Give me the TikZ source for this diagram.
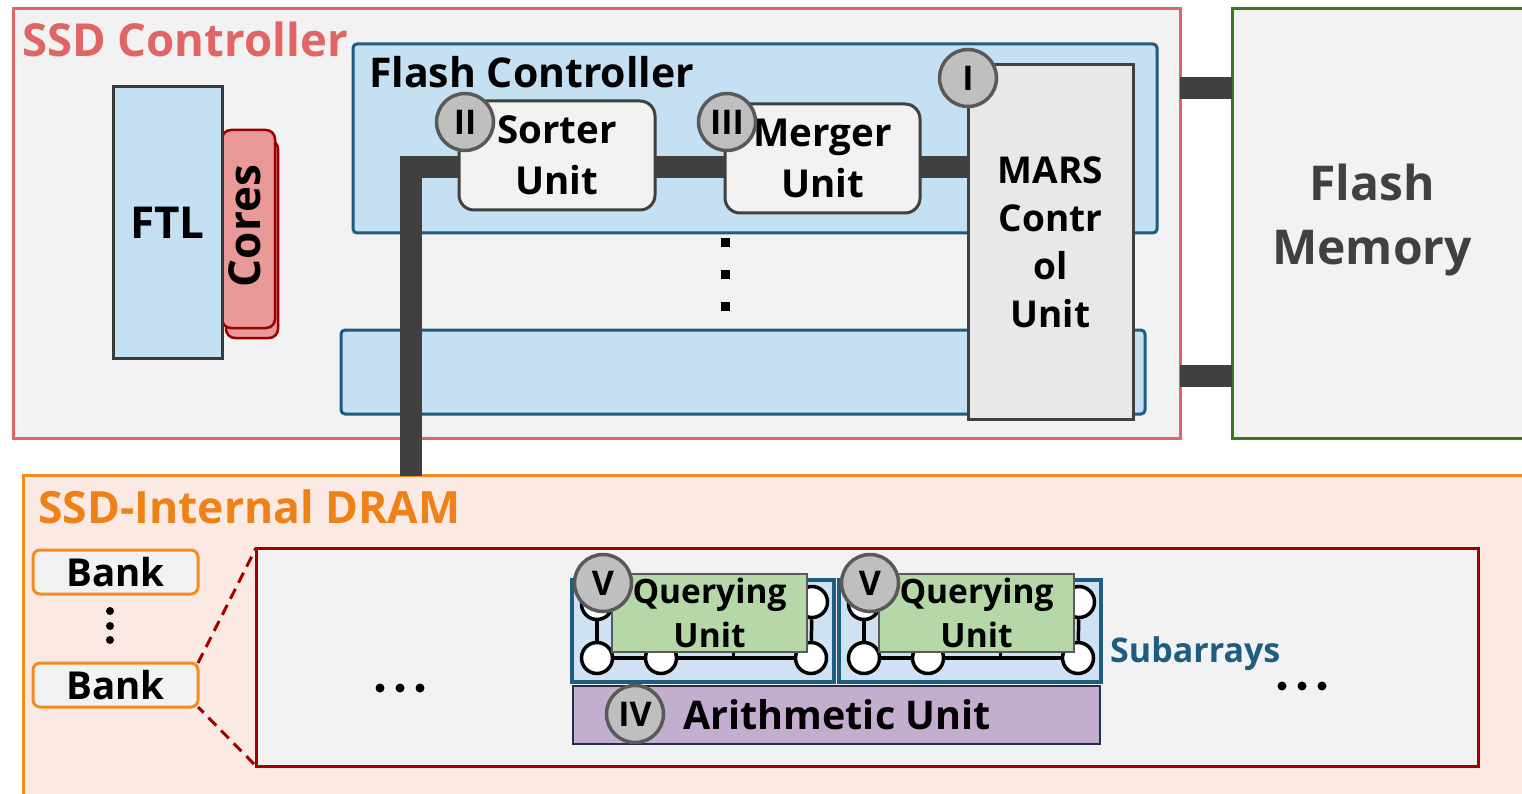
\documentclass[tikz,border=0pt]{standalone}
\usepackage{fontspec}
\setmainfont{Open Sans}
\usetikzlibrary{positioning}
\definecolor{ctrlred}{HTML}{E06666}
\definecolor{bggray}{HTML}{F2F2F2}
\definecolor{fmgreen}{HTML}{3A7A1F}
\definecolor{lblue}{HTML}{C5E0F2}
\definecolor{dblue}{HTML}{1F5C7F}
\definecolor{barcol}{HTML}{404040}
\definecolor{circfill}{HTML}{BFBFBF}
\definecolor{circdraw}{HTML}{595959}
\definecolor{dramfill}{HTML}{FBEAE3}
\definecolor{dramorange}{HTML}{F28C1E}
\definecolor{dramtext}{HTML}{EE8118}
\definecolor{darkred}{HTML}{A00000}
\definecolor{coresfill}{HTML}{EA9999}
\definecolor{coresdraw}{HTML}{990000}
\definecolor{qgreen}{HTML}{B6D7A8}
\definecolor{apurple}{HTML}{C3AED0}
\definecolor{apdraw}{HTML}{22304A}
\definecolor{subblue}{HTML}{CFE2F3}
\definecolor{marsfill}{HTML}{E8E8E8}
\definecolor{unitdraw}{HTML}{404040}
\newcommand{\myfs}[2]{\fontsize{#1}{#2}\selectfont}
\pgfdeclarelayer{back}
\pgfdeclarelayer{mid}
\pgfsetlayers{back,mid,main}
\begin{document}
\begin{tikzpicture}[x=1pt,y=-1pt,
  rbox/.style={rectangle, inner sep=0pt, outer sep=0pt, anchor=north west, line width=3pt},
  bus/.style={draw=barcol, line width=22pt},
  circ/.style={circle, fill=circfill, draw=circdraw, line width=3.5pt, minimum size=57pt, inner sep=0pt, font=\bfseries\myfs{34}{34}},
  sqdot/.style={rectangle, fill=black, minimum size=9pt, inner sep=0pt},
  rdot/.style={circle, fill=black, minimum size=9pt, inner sep=0pt},
  gnode/.style={circle, fill=white, draw=black, line width=3.5pt, minimum size=31pt, inner sep=0pt},
  unit/.style={rbox, rounded corners=15pt, fill=bggray, draw=unitdraw, align=center, font=\bfseries\myfs{38.5}{51}},
  bank/.style={rbox, rounded corners=7pt, fill=bggray, draw=dramorange, minimum width=165pt, minimum height=44pt, font=\bfseries\myfs{38.5}{38.5}},
  title/.style={anchor=base west, inner sep=0pt, font=\bfseries\myfs{45.5}{45.5}}
]
\begin{pgfonlayer}{back}
\useasboundingbox (0,0) rectangle (1522,794);
\fill[white] (0,0) rectangle (1522,794);
% big containers
\node[rbox, fill=bggray, draw=ctrlred, minimum width=1167pt, minimum height=429pt] (ssdctrl) at (13,9) {};
\node[rbox, fill=bggray, draw=fmgreen, minimum width=300pt, minimum height=429pt] (flashmem) at (1232,9) {};
\node[rbox, fill=dramfill, draw=dramorange, minimum width=1510pt, minimum height=330pt] (dram) at (23,475) {};
\node[rbox, rounded corners=4pt, fill=lblue, draw=dblue, minimum width=804pt, minimum height=189pt] (flashctrl) at (353,44) {};
\node[rbox, rounded corners=4pt, fill=lblue, draw=dblue, minimum width=804pt, minimum height=84pt] (lowerblue) at (341,330) {};
\end{pgfonlayer}

% titles
\node[title, text=ctrlred] (ssdtitle) at (22,57) {SSD Controller};
\node[title, font=\bfseries\myfs{41}{41}] (fctitle) at (369,88) {Flash Controller};
\node[title, text=dramtext, font=\bfseries\myfs{44.5}{44.5}] (dramtitle) at (38,523) {SSD-Internal DRAM};
\node[align=center, text=barcol, font=\bfseries\myfs{48}{64}] (fmtext) at (1372,220) {Flash\\Memory};

% FTL and cores
\node[rbox, rounded corners=9pt, fill=coresfill, draw=coresdraw, line width=2.5pt, minimum width=52pt, minimum height=198pt] (coresback) at (226,140) {};
\node[rbox, rounded corners=9pt, fill=coresfill, draw=coresdraw, line width=2.5pt, minimum width=53pt, minimum height=198pt] (cores) at (222,130) {};
\node[rotate=90, font=\bfseries\myfs{44}{44}] (corestext) at (245,226) {Cores};
\node[rbox, fill=lblue, draw=barcol!90!black, minimum width=109pt, minimum height=271pt, font=\bfseries\myfs{44}{44}] (ftl) at (113,87) {FTL};

% flash controller units
\node[unit, minimum width=196pt, minimum height=109pt] (sorter) at (459,101) {Sorter\\Unit};
\node[unit, minimum width=195pt, minimum height=109pt] (merger) at (725,104) {Merger\\Unit};
\node[rbox, fill=marsfill, draw=unitdraw, minimum width=165pt, minimum height=354pt, align=center, font=\bfseries\myfs{37}{48}] (mars) at (968,65) {MARS\\Contr\\ol\\Unit};
\node[circ] (cI) at (968,78) {I};
\node[circ] (cII) at (465,122) {II};
\node[circ] (cIII) at (727,122) {III};

\node[sqdot] (d1) at (725,243) {};
\node[sqdot] (d2) at (725,274) {};
\node[sqdot] (d3) at (725,306) {};

% buses
\coordinate (busy) at (0,167);
\coordinate (busend) at (411,476);
\coordinate (bus1) at (0,88);
\coordinate (bus2) at (0,376);
\begin{pgfonlayer}{mid}
\draw[bus] (busend) |- (sorter.west |- busy);
\draw[bus] (sorter.east |- busy) -- (merger.west |- busy);
\draw[bus] (merger.east |- busy) -- (mars.west |- busy);
\draw[bus] (ssdctrl.east |- bus1) -- (flashmem.west |- bus1);
\draw[bus] (ssdctrl.east |- bus2) -- (flashmem.west |- bus2);
\end{pgfonlayer}

% DRAM content
\node[bank] (bank1) at (33,550) {Bank};
\node[bank] (bank2) at (33,663) {Bank};
\node[rdot, minimum size=8pt] (v1) at (110,611) {};
\node[rdot, minimum size=8pt] (v2) at (110,626) {};
\node[rdot, minimum size=8pt] (v3) at (110,640) {};
\node[rbox, fill=bggray, draw=darkred, minimum width=1222pt, minimum height=218pt] (region) at (256,548) {};
\draw[darkred, line width=3pt, dash pattern=on 11pt off 7pt] (bank2.north east) -- (region.north west);
\draw[darkred, line width=3pt, dash pattern=on 11pt off 7pt, dash phase=3pt] (bank2.south east) -- (region.south west);

\node[rdot] (l1) at (380,688) {};
\node[rdot] (l2) at (400,688) {};
\node[rdot] (l3) at (420,688) {};
\node[rdot] (r1) at (1282,686) {};
\node[rdot] (r2) at (1302,686) {};
\node[rdot] (r3) at (1322,686) {};

\foreach \i/\dx in {1/0,2/267}{
  \begin{scope}[shift={(\dx,0)}]
    \node[rbox, fill=subblue, draw=dblue, line width=3.5pt, minimum width=262pt, minimum height=102pt] (sub\i) at (572,580) {};
    \node[gnode] (tl\i) at (597,604) {};
    \node[gnode] (tr\i) at (812,602) {};
    \node[gnode] (bl\i) at (597,658) {};
    \node[gnode] (bm\i) at (661,658) {};
    \node[gnode] (br\i) at (811,658) {};
    \draw[line width=3.5pt] (tl\i) -- (bl\i);
    \draw[line width=3.5pt] (bl\i) -- (bm\i);
    \draw[line width=3.5pt] (bm\i) -- (br\i);
    \draw[line width=3.5pt] (tr\i) -- (br\i);
    \draw[line width=3pt] (733,649) -- (733,657);
    \node[rbox, fill=qgreen, draw=circdraw, line width=2.5pt, minimum width=195pt, minimum height=78pt, align=center, font=\bfseries\myfs{33.5}{44}] (qu\i) at (612,574) {Querying\\Unit};
    \node[circ] (cV\i) at (603,583) {V};
  \end{scope}
}
\node[rbox, fill=apurple, draw=apdraw, line width=2.5pt, minimum width=527pt, minimum height=58pt, font=\bfseries\myfs{39.5}{39.5}] (arith) at (573,686) {\hspace*{1pt}Arithmetic Unit};
\node[circ] (cIV) at (635,714) {IV};
\node[anchor=base west, inner sep=0pt, text=dblue, font=\bfseries\myfs{34}{34}] (subtext) at (1110,662) {Subarrays};
\end{tikzpicture}
\end{document}
